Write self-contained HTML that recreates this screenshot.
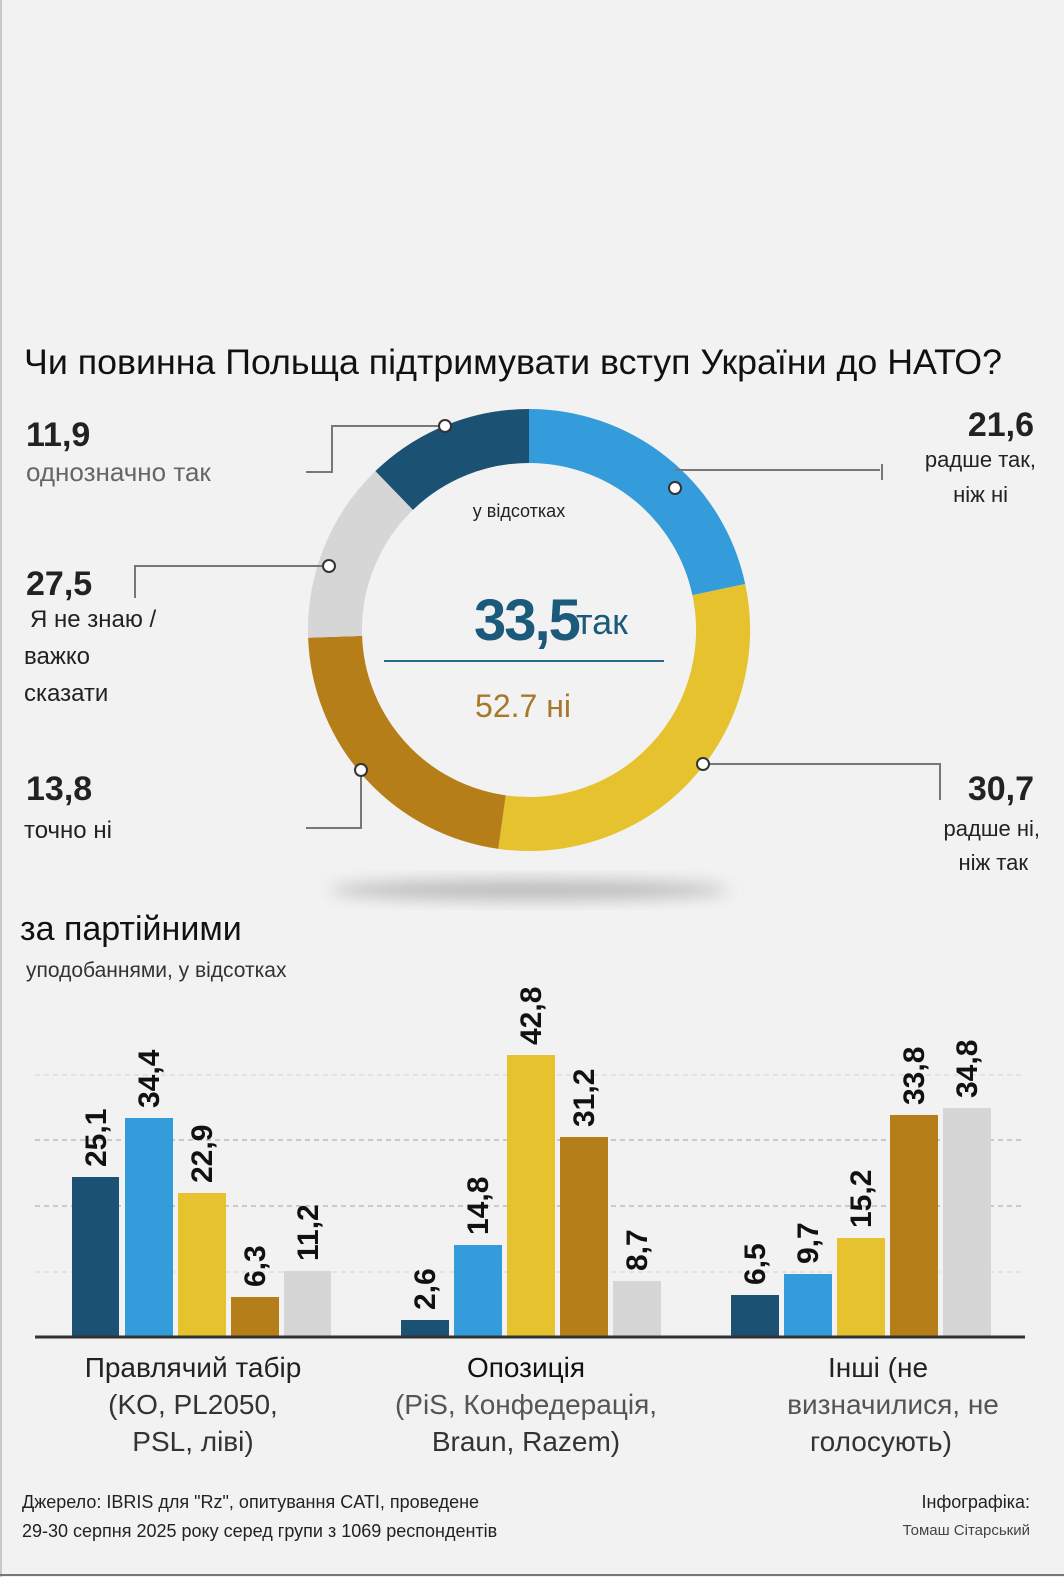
<!DOCTYPE html>
<html><head><meta charset="utf-8"><style>
html,body{margin:0;padding:0;background:#f2f2f2}
svg{display:block}
text{font-family:"Liberation Sans Narrow","Liberation Sans",sans-serif}
</style></head><body>
<svg width="1064" height="1577" viewBox="0 0 1064 1577">
<defs><filter id="b" x="-50%" y="-50%" width="200%" height="200%"><feGaussianBlur stdDeviation="8"/></filter></defs>
<rect width="1064" height="1577" fill="#f2f2f2"/>
<line x1="1" y1="0" x2="1" y2="1577" stroke="#c8c8c8" stroke-width="2"/>
<line x1="0" y1="1575" x2="1064" y2="1575" stroke="#777" stroke-width="2"/>
<text x="24" y="374" font-size="35" fill="#111" font-family="Liberation Sans" textLength="978" lengthAdjust="spacingAndGlyphs">Чи повинна Польща підтримувати вступ України до НАТО?</text>
<ellipse cx="529" cy="890" rx="200" ry="10" fill="#bbb" filter="url(#b)"/>
<g fill="none" stroke-width="54">
<path d="M529 436 A194 194 0 0 1 718.8 589.6" stroke="#359cdc"/>
<path d="M718.8 589.6 A194 194 0 0 1 502 822.1" stroke="#e6c22f"/>
<path d="M502 822.1 A194 194 0 0 1 335.1 636.8" stroke="#b57e19"/>
<path d="M335.1 636.8 A194 194 0 0 1 394.2 490.5" stroke="#d6d6d6"/>
<path d="M394.2 490.5 A194 194 0 0 1 529 436" stroke="#1b5172"/>
</g>
<g fill="none" stroke="#777" stroke-width="2">
<polyline points="445,426 332,426 332,472 306,472"/>
<polyline points="675,470 880,470"/><line x1="882" y1="464" x2="882" y2="480"/>
<polyline points="329,566 135,566 135,598"/>
<polyline points="361,770 361,828 306,828"/>
<polyline points="703,764 940,764 940,800"/>
</g>
<g fill="#fff" stroke="#333" stroke-width="2">
<circle cx="445" cy="426" r="6"/><circle cx="675" cy="488" r="6"/><circle cx="329" cy="566" r="6"/><circle cx="361" cy="770" r="6"/><circle cx="703" cy="764" r="6"/>
</g>
<g font-weight="bold" font-size="34" fill="#222">
<text x="26" y="446">11,9</text>
<text x="1034" y="436" text-anchor="end">21,6</text>
<text x="26" y="595">27,5</text>
<text x="26" y="800">13,8</text>
<text x="1034" y="800" text-anchor="end">30,7</text>
</g>
<g font-size="26" fill="#222" font-family="Liberation Sans">
<text x="26" y="481" fill="#666">однозначно так</text>
<text x="1036" y="467" text-anchor="end" font-size="22">радше так,</text>
<text x="1008" y="502" text-anchor="end" font-size="22">ніж ні</text>
<text x="30" y="627" font-size="24">Я не знаю /</text>
<text x="24" y="664" font-size="24">важко</text>
<text x="24" y="701" font-size="24">сказати</text>
<text x="24" y="838" font-size="24">точно ні</text>
<text x="1040" y="836" text-anchor="end" font-size="22">радше ні,</text>
<text x="1028" y="870" text-anchor="end" font-size="22">ніж так</text>
</g>
<text x="519" y="517" font-size="18" fill="#222" text-anchor="middle" font-family="Liberation Sans">у відсотках</text>
<text x="474" y="640" font-size="58" font-weight="bold" fill="#1b5a7a" letter-spacing="-2">33,5</text>
<text x="576" y="634" font-size="36" fill="#1b5a7a" font-family="Liberation Sans">так</text>
<line x1="384" y1="661" x2="664" y2="661" stroke="#2a6a8a" stroke-width="2"/>
<text x="523" y="717" font-size="32" fill="#a8782a" text-anchor="middle" font-family="Liberation Sans">52.7 ні</text>
<text x="20" y="940" font-size="34" fill="#111" font-family="Liberation Sans">за партійними</text>
<text x="26" y="977" font-size="21" fill="#333" font-family="Liberation Sans">уподобаннями, у відсотках</text>
<g stroke="#bbb" stroke-width="1.5" stroke-dasharray="5,4">
<line x1="35" y1="1075" x2="1025" y2="1075" stroke="#ddd"/>
<line x1="35" y1="1140" x2="1025" y2="1140"/>
<line x1="35" y1="1206" x2="1025" y2="1206"/>
<line x1="35" y1="1272" x2="1025" y2="1272" stroke="#ddd"/>
</g>
<g>
<rect x="72" y="1177" width="47" height="160" fill="#1b5172"/>
<rect x="125" y="1118" width="48" height="219" fill="#359cdc"/>
<rect x="178" y="1193" width="48" height="144" fill="#e6c22f"/>
<rect x="231" y="1297" width="48" height="40" fill="#b57e19"/>
<rect x="284" y="1271" width="47" height="66" fill="#d6d6d6"/>
<rect x="401" y="1320" width="48" height="17" fill="#1b5172"/>
<rect x="454" y="1245" width="48" height="92" fill="#359cdc"/>
<rect x="507" y="1055" width="48" height="282" fill="#e6c22f"/>
<rect x="560" y="1137" width="48" height="200" fill="#b57e19"/>
<rect x="613" y="1281" width="48" height="56" fill="#d6d6d6"/>
<rect x="731" y="1295" width="48" height="42" fill="#1b5172"/>
<rect x="784" y="1274" width="48" height="63" fill="#359cdc"/>
<rect x="837" y="1238" width="48" height="99" fill="#e6c22f"/>
<rect x="890" y="1115" width="48" height="222" fill="#b57e19"/>
<rect x="943" y="1108" width="48" height="229" fill="#d6d6d6"/>
</g>
<line x1="35" y1="1337" x2="1025" y2="1337" stroke="#333" stroke-width="3"/>
<g font-size="28" fill="#333" text-anchor="middle" font-family="Liberation Sans">
<text x="193" y="1377" fill="#222">Правлячий табір</text>
<text x="193" y="1414">(KO, PL2050,</text>
<text x="193" y="1451">PSL, ліві)</text>
<text x="526" y="1377" fill="#111">Опозиція</text>
<text x="526" y="1414" fill="#555">(PiS, Конфедерація,</text>
<text x="526" y="1451">Braun, Razem)</text>
<text x="878" y="1377" fill="#222">Інші (не</text>
<text x="893" y="1414" fill="#555">визначилися, не</text>
<text x="881" y="1451">голосують)</text>
</g>
<g font-size="18" fill="#222" font-family="Liberation Sans">
<text x="22" y="1508">Джерело: IBRIS для "Rz", опитування CATI, проведене</text>
<text x="22" y="1537">29-30 серпня 2025 року серед групи з 1069 респондентів</text>
<text x="1030" y="1508" text-anchor="end">Інфографіка:</text>
<text x="1030" y="1535" text-anchor="end" font-size="15" fill="#444">Томаш Сітарський</text>
</g>
<g font-size="30" font-weight="bold" fill="#111">
<text transform="translate(106,1167) rotate(-90)">25,1</text>
<text transform="translate(159,1108) rotate(-90)">34,4</text>
<text transform="translate(212,1183) rotate(-90)">22,9</text>
<text transform="translate(265,1287) rotate(-90)">6,3</text>
<text transform="translate(318,1261) rotate(-90)">11,2</text>
<text transform="translate(435,1310) rotate(-90)">2,6</text>
<text transform="translate(488,1235) rotate(-90)">14,8</text>
<text transform="translate(541,1045) rotate(-90)">42,8</text>
<text transform="translate(594,1127) rotate(-90)">31,2</text>
<text transform="translate(647,1271) rotate(-90)">8,7</text>
<text transform="translate(765,1285) rotate(-90)">6,5</text>
<text transform="translate(818,1264) rotate(-90)">9,7</text>
<text transform="translate(871,1228) rotate(-90)">15,2</text>
<text transform="translate(924,1105) rotate(-90)">33,8</text>
<text transform="translate(977,1098) rotate(-90)">34,8</text>
</g>
</svg>
</body></html>
